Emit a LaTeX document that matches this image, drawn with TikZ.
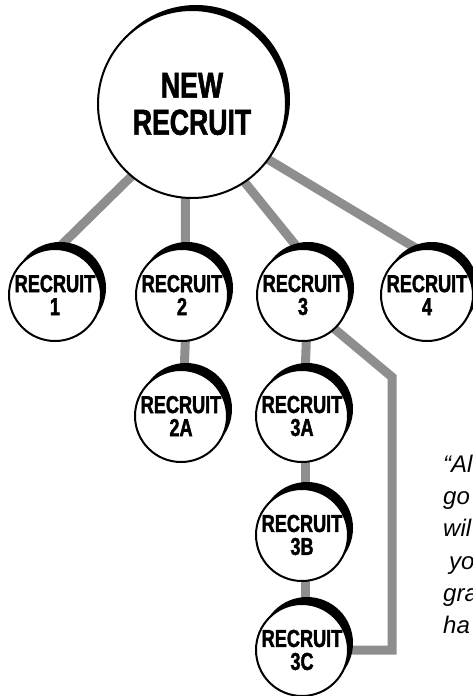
\documentclass[tikz,border=0pt]{standalone}
\usepackage{fontspec}
\setmainfont{Liberation Sans}
% narrow, heavy face for the circle labels
\newfontfamily\narrowsans[FakeStretch=0.74,FakeBold=1.6]{Liberation Sans}
\usetikzlibrary{shadows,backgrounds}

\definecolor{linkgray}{RGB}{142,142,142}

\tikzset{
  bubble/.style={circle, draw=black, line width=2pt, fill=white,
    inner sep=0pt, align=center},
  recruit/.style={bubble, minimum size=92pt,
    font=\narrowsans\bfseries\fontsize{24.5}{23}\selectfont,
    general shadow={fill=black, shadow xshift=5pt, shadow yshift=7pt}},
  founder/.style={bubble, minimum size=188pt,
    font=\narrowsans\bfseries\fontsize{36}{37}\selectfont,
    general shadow={fill=black, shadow xshift=4pt, shadow yshift=5pt}},
  link/.style={draw=linkgray, line width=9pt, line join=miter,
    shorten <=-8pt, shorten >=-8pt},
  quote/.style={inner sep=0pt, align=left,
    font=\itshape\fontsize{24}{32.2}\selectfont}
}

\begin{document}
\begin{tikzpicture}[x=1pt,y=-1pt]
\useasboundingbox (0,0) rectangle (472,696);

% the tree of recruits
\node[founder] (big) at (192,104) {NEW\\RECRUIT};
\node[recruit] (r1)  at (55,295)  {RECRUIT\\1};
\node[recruit] (r2)  at (182,295) {RECRUIT\\2};
\node[recruit] (r3)  at (303,295) {RECRUIT\\3};
\node[recruit] (r4)  at (427,295) {RECRUIT\\4};
\node[recruit] (r2a) at (181,416) {RECRUIT\\2A};
\node[recruit] (r3a) at (302,416) {RECRUIT\\3A};
\node[recruit] (r3b) at (302,535) {RECRUIT\\3B};
\node[recruit] (r3c) at (302,650) {RECRUIT\\3C};

\coordinate (bend) at (392,377);

% grey links, kept behind the circles
\begin{scope}[on background layer]
  \draw[link] (big.230) -- (r1.86);
  \draw[link] (big.266) -- (r2.86);
  \draw[link] (big.304) -- (r3.96);
  \draw[link] (big.324) -- (r4.102);
  \draw[link] (r2.274) -- (r2a.86);
  \draw[link] (r3.274) -- (r3a.86);
  \draw[link] (r3a.274) -- (r3b.86);
  \draw[link] (r3b.274) -- (r3c.86);
  \draw[link] (r3.313) -- (bend) |- (r3c.east);
\end{scope}

% side note
\node[quote, anchor=north west] (note) at (443,455)
  {“Al\\go\\wil\\\hspace*{6pt}yo\\gra\\ha};
\end{tikzpicture}
\end{document}
